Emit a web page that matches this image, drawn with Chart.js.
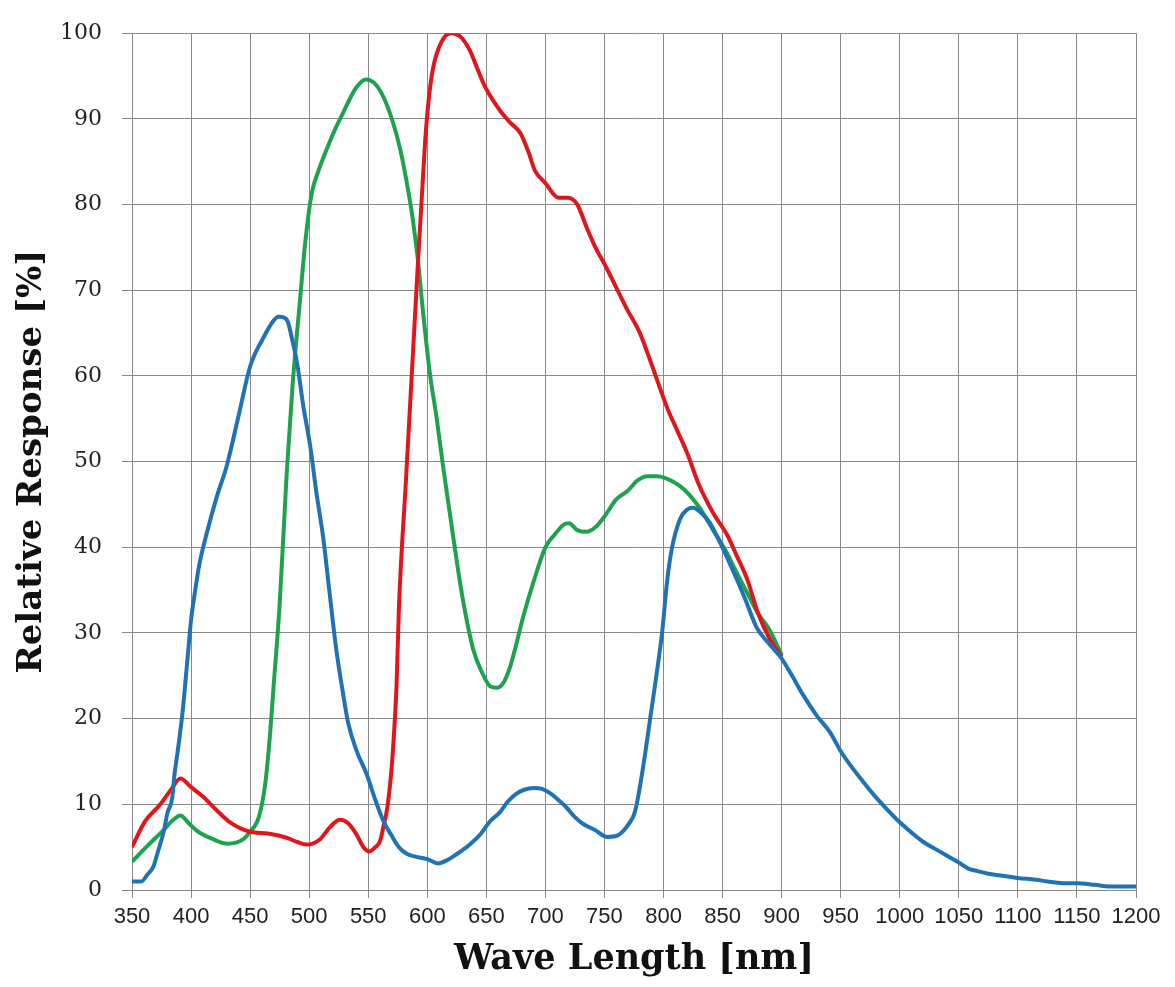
<!DOCTYPE html>
<html lang="en">
<head>
  <meta charset="UTF-8" />
  <title>Relative Response</title>
  <script src="https://cdn.jsdelivr.net/npm/chart.js"></script>
  <style>
    html, body { margin: 0; padding: 0; background: #fff; }
    #wrap { width: 1175px; height: 987px; }
  </style>
</head>
<body>
  <div id="wrap"><canvas id="respChart" width="1175" height="987"></canvas></div>

  <script>
    // values (nm, %)
    const redNm = [350,361,374,383,391,400,410,421,433,450,465,481,490,498,509,518,526,533,540,546,551,556,560,563,566,569,571,574,576,582,586,590,592,595,598,601,605,612,620,628,636,642,648,655,662,670,679,686,691,700,711,719,727,735,742,751,760,769,780,790,803,812,820,830,842,854,862,871,880,890,900];
    const redVal = [5,8,10,11.7,13,12,10.9,9.4,7.9,6.8,6.6,6.1,5.6,5.3,5.9,7.4,8.2,7.8,6.5,5,4.5,5,5.7,7.5,9.5,13,16.5,24,33,48,58,68,73,80,87,92,96,99,100,99.6,98,96,94,92.3,90.9,89.6,88.3,86,84,82.5,80.8,80.8,80,77.3,75.1,72.8,70.3,67.8,65,61.3,56.3,53.5,51,47.3,44,41.4,39,36.2,32.3,29.3,27.2];

    const greenNm = [350,362,376,385,391,398,405,419,431,444,450,456,460,463,467,470,475,481,486,492,497,502,508,515,522,529,535,540,548,555,562,570,577,584,588,592,596,602,608,613,618,623,630,639,646,653,659,665,670,675,681,690,700,708,715,720,727,735,742,750,760,769,778,786,795,801,809,817,825,831,842,853,862,870,880,890,900];
    const greenVal = [3.3,5,6.9,8.2,8.7,7.8,6.9,5.9,5.4,5.9,6.8,8,10,12.6,18.4,24,33.3,48.7,59,68.5,76,81.2,84,86.5,88.8,90.8,92.5,93.7,94.6,94.2,92.8,90,86.5,81.5,78,73.6,68,60.5,55,49.8,45,40.2,34,28,25.5,23.8,23.6,24.3,26,28.5,31.8,36,40,41.5,42.6,42.8,42,41.8,42.3,43.6,45.6,46.5,47.8,48.3,48.3,48.1,47.6,46.8,45.6,44.5,42,39.5,37,34.9,32.3,30.3,27.4];

    const blueNm = [350,358,363,368,372,377,380,384,386,389,393,397,400,403,407,413,422,430,440,450,461,469,474,479,482,486,490,495,501,506,512,517,523,528,533,540,549,556,563,570,576,583,590,600,609,617,625,635,645,653,661,668,675,682,690,697,704,711,718,725,732,742,752,760,766,771,775,778,783,789,793,799,803,807,814,820,825,832,839,848,859,869,879,889,899,908,918,930,941,950,958,968,978,990,1000,1010,1020,1030,1040,1050,1058,1066,1075,1085,1100,1115,1125,1138,1150,1165,1178,1200];
    const blueVal = [1,1,1.8,2.7,4.5,6.9,9,10.7,13.5,16.5,21,27,31.5,34.5,38,41.5,46,49.4,55.2,61.1,64.4,66.3,66.9,66.8,66.3,64,61.3,56.5,51.7,46.5,41,35,28,23.5,19.5,16.3,13.4,10.5,8,6.3,5,4.2,3.9,3.6,3.1,3.5,4.2,5.2,6.5,8,9,10.3,11.2,11.7,11.9,11.8,11.3,10.5,9.6,8.5,7.7,7,6.2,6.3,6.9,7.8,8.8,10.5,14.6,20.3,24.1,30.3,36,39.8,43.3,44.4,44.6,44,42.9,40.5,37.2,34,30.6,28.8,27.2,25.2,22.8,20.3,18.4,16.2,14.6,12.8,11.1,9.3,7.9,6.7,5.6,4.8,4,3.2,2.5,2.2,1.9,1.7,1.4,1.2,1,0.8,0.8,0.6,0.4,0.4];

    const xMin = 350, xMax = 1200, xStep = 50;
    const yMin = 0, yMax = 100, yStep = 10;

    const toPoints = (xs, ys) => xs.map((x, i) => ({ x: x, y: ys[i] }));

    const gridColor = "#888888";

    const ctx = document.getElementById("respChart").getContext("2d");
    new Chart(ctx, {
      type: "line",
      data: {
        datasets: [
          { label: "B", data: toPoints(blueNm, blueVal), borderColor: "#1f72b5", order: 1 },
          { label: "R", data: toPoints(redNm, redVal), borderColor: "#e0161c", order: 2 },
          { label: "G", data: toPoints(greenNm, greenVal), borderColor: "#1fa24e", order: 3 }
        ]
      },
      options: {
        responsive: false,
        animation: false,
        layout: { padding: { left: 0, right: 39, top: 20, bottom: 0 } },
        elements: {
          point: { radius: 0 },
          line: { borderWidth: 4, tension: 0.4, cubicInterpolationMode: "monotone", fill: false }
        },
        plugins: {
          legend: { display: false },
          tooltip: { enabled: false }
        },
        scales: {
          x: {
            type: "linear",
            min: xMin, max: xMax,
            afterFit: s => { s.height = 97; },
            ticks: {
              stepSize: xStep, autoSkip: false, maxRotation: 0, padding: 6,
              color: "#222",
              callback: v => String(v),
              font: { family: "'Liberation Sans Narrow', 'Liberation Sans', sans-serif", size: 22 }
            },
            grid: { color: gridColor, lineWidth: 1, tickLength: 8 },
            border: { color: gridColor },
            title: {
              display: true, text: "Wave Length [nm]", color: "#111",
              font: { family: "'DejaVu Serif', serif", size: 35, weight: "bold" },
              padding: { top: 0, bottom: 6 }
            }
          },
          y: {
            min: yMin, max: yMax,
            afterFit: s => { s.width = 132; },
            ticks: {
              stepSize: yStep, padding: 20, color: "#222",
              font: { family: "'DejaVu Serif', serif", size: 22 }
            },
            grid: { color: gridColor, lineWidth: 1, tickLength: 10 },
            border: { color: gridColor },
            title: {
              display: true, text: "Relative Response [%]", color: "#111",
              font: { family: "'DejaVu Serif', serif", size: 34, weight: "bold" },
              padding: { top: 12, bottom: 0 }
            }
          }
        }
      }
    });
  </script>
</body>
</html>
